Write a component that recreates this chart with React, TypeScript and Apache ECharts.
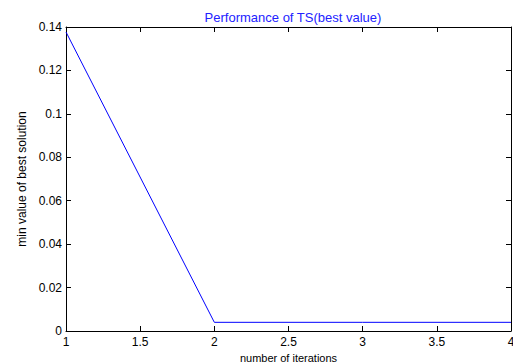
import React, { useEffect, useRef } from "react";
import * as echarts from "echarts";

const iterations = [1, 2, 3, 4];
const bestValues = [0.1377, 0.004, 0.004, 0.004];
const xTicks = [1, 1.5, 2, 2.5, 3, 3.5, 4];
const yTicks = [0, 0.02, 0.04, 0.06, 0.08, 0.1, 0.12, 0.14];

const titleText = "Performance of TS(best value)";
const xName = "number of iterations";
const yName = "min value of best solution";

const FONT = "'Liberation Sans', Arial, sans-serif";

export default function App() {
  const ref = useRef<HTMLDivElement>(null);
  useEffect(() => {
    document.body.style.margin = "0";
    document.body.style.overflow = "hidden";
    if (!ref.current) return;
    const chart = echarts.init(ref.current, undefined, { renderer: "svg" });
    const fmt = (v: number) => String(+v.toFixed(2));
    const xMin = xTicks[0];
    const xMax = xTicks[xTicks.length - 1];
    const yMin = yTicks[0];
    const yMax = yTicks[yTicks.length - 1];
    const axisLook = {
      axisLine: { show: true, onZero: false, lineStyle: { color: "#000", width: 1 } },
      axisTick: { show: true, inside: true, length: 5, lineStyle: { color: "#000", width: 1 } },
      splitLine: { show: false },
    };
    chart.setOption({
      animation: false,
      backgroundColor: "#fff",
      textStyle: { fontFamily: FONT },
      title: {
        text: titleText,
        left: 288,
        textAlign: "center",
        top: 6,
        textStyle: { color: "#2222ff", fontSize: 13, fontWeight: "normal", fontFamily: FONT },
      },
      grid: {
        left: 66,
        right: 2,
        top: 27,
        bottom: 31,
        containLabel: false,
        outerBoundsMode: "none",
        show: false,
      },
      xAxis: [
        {
          type: "value",
          min: xMin,
          max: xMax,
          interval: 0.5,
          position: "bottom",
          name: xName,
          nameLocation: "middle",
          nameGap: 13,
          nameTextStyle: { color: "#000", fontSize: 11, fontFamily: FONT },
          axisLabel: { color: "#000", fontSize: 12, margin: 5, formatter: fmt, fontFamily: FONT, showMaxLabel: true },
          ...axisLook,
        },
        {
          type: "value",
          min: xMin,
          max: xMax,
          interval: 0.5,
          position: "top",
          axisLabel: { show: false },
          ...axisLook,
        },
      ],
      yAxis: [
        {
          type: "value",
          min: yMin,
          max: yMax,
          interval: 0.02,
          position: "left",
          name: yName,
          nameLocation: "middle",
          nameGap: 38,
          nameTextStyle: { color: "#000", fontSize: 12, fontFamily: FONT },
          axisLabel: { color: "#000", fontSize: 12, margin: 4, formatter: fmt, fontFamily: FONT },
          ...axisLook,
        },
        {
          type: "value",
          min: yMin,
          max: yMax,
          interval: 0.02,
          position: "right",
          axisLabel: { show: false },
          ...axisLook,
        },
      ],
      series: [
        {
          type: "line",
          data: iterations.map((x, i) => [x, bestValues[i]]),
          xAxisIndex: 0,
          yAxisIndex: 0,
          showSymbol: false,
          lineStyle: { color: "#0000ff", width: 1 },
          itemStyle: { color: "#0000ff" },
        },
      ],
    });
    return () => chart.dispose();
  }, []);
  return (
    <div
      ref={ref}
      style={{ position: "absolute", left: 0, top: 0, width: 513, height: 362, overflow: "hidden" }}
    />
  );
}
